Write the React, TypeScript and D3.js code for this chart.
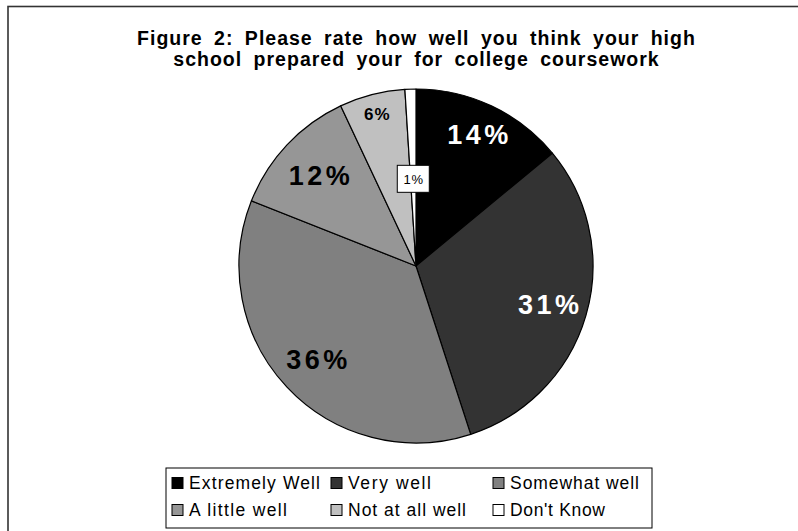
import React from "react";
import * as d3 from "d3";

const categories = ["Extremely Well", "Very well", "Somewhat well", "A little well", "Not at all well", "Don't Know"];
const values = [14, 31, 36, 12, 6, 1];
const labels = ["14%", "31%", "36%", "12%", "6%", "1%"];
const colors = ["#000000", "#333333", "#808080", "#969696", "#c0c0c0", "#ffffff"];
const titleLines = [
  "Figure 2: Please rate how well you think your high",
  "school prepared your for college coursework",
];

const W = 798;
const H = 531;
const cx = 416;
const cy = 266;
const R = 177;
const FONT = "'Liberation Sans', Arial, sans-serif";

export default function App() {
  const pie = d3.pie<number>().sort(null).value((d) => d);
  const arcs = pie(values);
  const arcGen = d3.arc<d3.PieArcDatum<number>>().innerRadius(0).outerRadius(R);
  const labelFactor = [0.82, 0.78, 0.77, 0.75, 0.89, 0.49];
  const labelStyle = [
    { size: 27, weight: "bold", fill: "#fff", ls: 3.5 },
    { size: 27, weight: "bold", fill: "#fff", ls: 3.5 },
    { size: 27, weight: "bold", fill: "#000", ls: 3.5 },
    { size: 27, weight: "bold", fill: "#000", ls: 3.5 },
    { size: 17, weight: "bold", fill: "#000", ls: 1 },
    { size: 13, weight: "normal", fill: "#000", ls: 1 },
  ];

  // legend layout
  const legX = 166, legY = 468, legW = 486, legH = 60;
  const colX = [172, 331, 493];
  const rowY = [483, 510];
  const legendTextW = [131, 83, 129, 98, 118, 95];

  return (
    <svg width={W} height={H} style={{ position: "absolute", left: 0, top: 0, background: "#fff" }}>
      <rect x={8} y={6.5} width={W + 10} height={H + 10} fill="#fff" stroke="#333" strokeWidth={1.6} />
      {titleLines.map((t, i) => (
        <text key={i} x={cx + 0.5} y={44.5 + i * 21} textAnchor="middle" fontFamily={FONT} fontWeight="bold"
          fontSize={19.5} letterSpacing={1} wordSpacing={5} fill="#000">{t}</text>
      ))}
      <g transform={`translate(${cx},${cy})`}>
        {arcs.map((a, i) => (
          <path key={i} d={arcGen(a) || ""} fill={colors[i]} stroke="#000" strokeWidth={1.2} strokeLinejoin="round" />
        ))}
        {arcs.map((a, i) => {
          const rr = R * labelFactor[i];
          const [lx, ly] = d3.arc<d3.PieArcDatum<number>>().innerRadius(rr).outerRadius(rr).centroid(a);
          const st = labelStyle[i];
          if (i === 5) {
            return (
              <g key={i} transform={`translate(${lx},${ly})`}>
                <rect x={-16} y={-14} width={32} height={27} fill="#fff" stroke="#000" strokeWidth={1} />
                <text x={st.ls / 2} textAnchor="middle" dy="0.36em" fontFamily={FONT} fontSize={st.size} fill={st.fill} letterSpacing={st.ls}>{labels[i]}</text>
              </g>
            );
          }
          return (
            <text key={i} x={lx + st.ls / 2} y={ly} dy="0.36em" textAnchor="middle" fontFamily={FONT} fontWeight={st.weight}
              fontSize={st.size} fill={st.fill} letterSpacing={st.ls}>{labels[i]}</text>
          );
        })}
      </g>
      <rect x={legX} y={legY} width={legW} height={legH} fill="#fff" stroke="#000" strokeWidth={1} />
      {categories.map((c, i) => {
        const x = colX[i % 3];
        const y = rowY[Math.floor(i / 3)];
        return (
          <g key={c}>
            <rect x={x} y={y - 5.5} width={11} height={11} fill={colors[i]} stroke="#000" strokeWidth={1} />
            <text x={x + 17} y={y} dy="0.36em" fontFamily={FONT} fontSize={17.5}
              textLength={legendTextW[i]} lengthAdjust="spacing" fill="#000">{c}</text>
          </g>
        );
      })}
    </svg>
  );
}
